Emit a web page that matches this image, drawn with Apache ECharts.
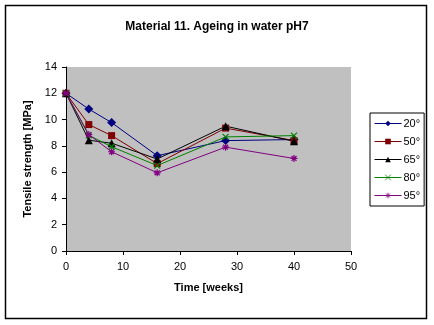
<!DOCTYPE html>
<html><head><meta charset="utf-8">
<script src="https://cdn.jsdelivr.net/npm/echarts@6/dist/echarts.min.js"></script>
<style>html,body{margin:0;padding:0;background:#fff}#c{width:434px;height:325px}</style>
</head><body><div id="c"></div>
<script>
var weeks = [0, 4, 8, 16, 28, 40];
var s20 = [12.0, 10.8, 9.77, 7.25, 8.4, 8.48];
var s50 = [12.0, 9.62, 8.78, 6.65, 9.35, 8.4];
var s65 = [12.0, 8.43, 8.2, 7.0, 9.5, 8.35];
var s80 = [12.0, 8.8, 7.93, 6.5, 8.68, 8.78];
var s95 = [12.0, 8.86, 7.55, 5.95, 7.9, 7.04];
var names = ['20°', '50°', '65°', '80°', '95°'];
var xTicks = [0, 10, 20, 30, 40, 50];
var yTicks = [0, 2, 4, 6, 8, 10, 12, 14];

var xPath = 'path://M0,0L10,10M10,0L0,10';
var starPath = 'path://M5,0L5,10M0,5L10,5M1.5,1.5L8.5,8.5M8.5,1.5L1.5,8.5';

function pairs(v){ return weeks.map(function(w,i){ return [w, v[i]]; }); }
function mk(name, data, color, symbol, size, stroke){
  return {
    name: name, type: 'line', data: pairs(data),
    symbol: symbol, symbolSize: size,
    lineStyle: {color: color, width: 1},
    itemStyle: stroke ? {color: color, borderColor: color, borderWidth: 1.2} : {color: color},
    emphasis: {disabled: true}, animation: false
  };
}
var chart = echarts.init(document.getElementById('c'));
chart.setOption({
  backgroundColor: '#fff',
  animation: false,
  textStyle: {fontFamily: 'Liberation Sans, Arial, sans-serif', color: '#000'},
  title: {text: 'Material 11. Ageing in water pH7', left: 'center', top: 16,
    textStyle: {fontSize: 12, fontWeight: 'bold', color: '#000', fontFamily: 'Liberation Sans, Arial, sans-serif'}},
  graphic: [{type: 'rect', shape: {x: 5.5, y: 5.5, width: 421, height: 313},
    style: {fill: 'none', stroke: '#000', lineWidth: 1.5}, silent: true}],
  grid: {left: 66, right: 83, top: 67, bottom: 74, show: true, backgroundColor: '#C0C0C0', borderWidth: 0},
  legend: {
    orient: 'vertical', left: 370, top: 113,
    data: names, itemWidth: 27, itemHeight: 7, itemGap: 7,
    padding: [5, 4, 5, 4], borderColor: '#000', borderWidth: 1,
    backgroundColor: '#fff',
    lineStyle: {width: 1},
    itemStyle: {borderWidth: 0.8},
    textStyle: {fontSize: 11, color: '#000', padding: [0, 0, 0, -3]}
  },
  xAxis: {
    type: 'value', min: 0, max: 50, interval: 10,
    name: 'Time [weeks]', nameLocation: 'middle', nameGap: 31,
    nameTextStyle: {fontSize: 11, fontWeight: 'bold', color: '#000'},
    axisLine: {lineStyle: {color: '#000', width: 1}},
    axisTick: {show: true, length: 4, lineStyle: {color: '#000'}},
    axisLabel: {fontSize: 11, color: '#000', margin: 10,
      formatter: function(v){ return xTicks.indexOf(v) >= 0 ? String(v) : ''; }},
    splitLine: {show: false}
  },
  yAxis: {
    type: 'value', min: 0, max: 14, interval: 2,
    name: 'Tensile strength [MPa]', nameLocation: 'middle', nameGap: 29,
    nameTextStyle: {fontSize: 11, fontWeight: 'bold', color: '#000'},
    axisLine: {show: true, lineStyle: {color: '#000', width: 1}},
    axisTick: {show: true, length: 4, lineStyle: {color: '#000'}},
    axisLabel: {fontSize: 11, color: '#000', margin: 9,
      formatter: function(v){ return yTicks.indexOf(v) >= 0 ? String(v) : ''; }},
    splitLine: {show: false}
  },
  series: [
    mk(names[0], s20, '#000080', 'diamond', 9, false),
    mk(names[1], s50, '#800000', 'rect', 7, false),
    mk(names[2], s65, '#000000', 'triangle', 8, false),
    mk(names[3], s80, '#008000', xPath, 6, true),
    mk(names[4], s95, '#800080', starPath, 7, true)
  ]
});
</script></body></html>
